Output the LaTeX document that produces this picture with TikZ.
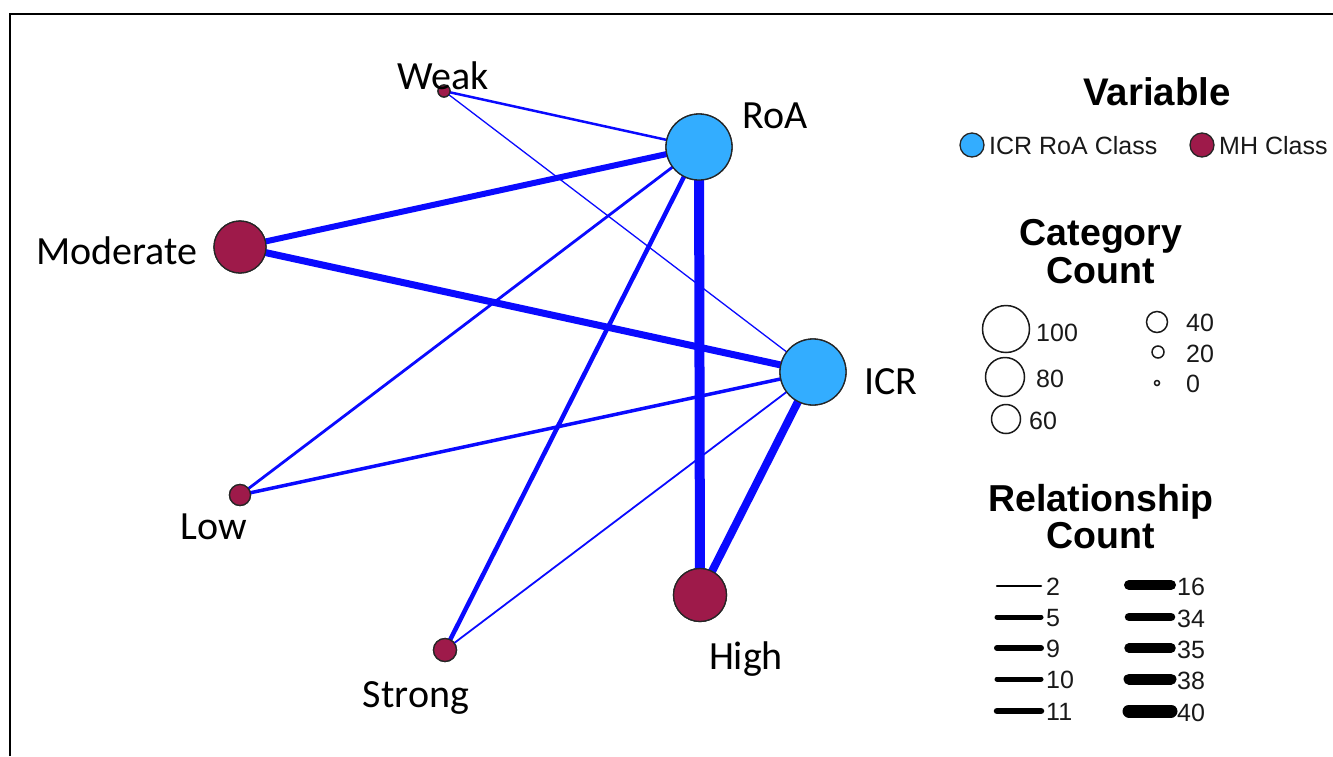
\documentclass[tikz,border=0pt]{standalone}
\usepackage{fontspec}
\setmainfont{Carlito}
\newfontfamily\arial{Liberation Sans}
\definecolor{icrblue}{HTML}{33ADFF}
\definecolor{mhred}{HTML}{9E1A4A}
\definecolor{edgeblue}{HTML}{0A0AFF}
\begin{document}
\begin{tikzpicture}[x=1pt,y=-1pt,
  vnode/.style={circle,draw=black!85,line width=1.3pt,inner sep=0pt,fill=icrblue},
  mnode/.style={circle,draw=black!85,line width=1.3pt,inner sep=0pt,fill=mhred},
  lab/.style={font=\fontsize{40}{42}\selectfont,anchor=base,inner sep=0pt},
  edge/.style={draw=edgeblue},
  ltitle/.style={font=\arial\bfseries\fontsize{37.5}{40}\selectfont,anchor=base,inner sep=0pt},
  ltext/.style={font=\arial\fontsize{25}{27}\selectfont,anchor=west,inner sep=0pt,text=black!90},
  sizec/.style={circle,draw=black!90,line width=1.5pt,inner sep=0pt,fill=white},
  lline/.style={line width=#1,black,line cap=round}
]
\useasboundingbox (0,0) rectangle (1333,756);
\draw[line width=2pt] (10,756) -- (10,14) -- (1333,14);

% nodes
\node[vnode,minimum size=66pt] (roa) at (699,147) {};
\node[vnode,minimum size=66pt] (icr) at (813,372) {};
\node[mnode,minimum size=52pt] (mod) at (240,247) {};
\node[mnode,minimum size=53pt] (high) at (700,595) {};
\node[mnode,minimum size=12pt] (weak) at (444,91) {};
\node[mnode,minimum size=21pt] (low) at (240,495) {};
\node[mnode,minimum size=23pt] (strong) at (445,650) {};

% edges
\draw[edge,line width=2.5pt] (weak.center) -- (roa.center);
\draw[edge,line width=1.3pt] (weak.center) -- (icr.center);
\draw[edge,line width=6pt] (mod.center) -- (roa.center);
\draw[edge,line width=7pt] (mod.center) -- (icr.center);
\draw[edge,line width=2.8pt] (low.center) -- (roa.center);
\draw[edge,line width=3.5pt] (low.center) -- (icr.center);
\draw[edge,line width=4.5pt] (strong.center) -- (roa.center);
\draw[edge,line width=1.8pt] (strong.center) -- (icr.center);
\draw[edge,line width=10pt] (roa.center) -- (high.center);
\draw[edge,line width=8pt] (icr.center) -- (high.center);

% redraw nodes on top
\node[vnode,minimum size=66pt] at (roa) {};
\node[vnode,minimum size=66pt] at (icr) {};
\node[mnode,minimum size=52pt] at (mod) {};
\node[mnode,minimum size=53pt] at (high) {};
\node[mnode,minimum size=12pt] at (weak) {};
\node[mnode,minimum size=21pt] at (low) {};
\node[mnode,minimum size=23pt] at (strong) {};

% labels
\node[lab] (lweak) at (443,89) {Weak};
\node[lab] (lroa) at (775,128) {RoA};
\node[lab] (lmod) at (117,264) {Moderate};
\node[lab] (licr) at (891,394) {ICR};
\node[lab] (llow) at (214,539) {Low};
\node[lab] (lhigh) at (746,669) {High};
\node[lab] (lstrong) at (416,707) {Strong};

% legend: Variable
\node[ltitle,font=\arial\bfseries\fontsize{38.5}{40}\selectfont] (tvar) at (1157,105) {Variable};
\node[vnode,minimum size=24pt] (lgv) at (972,145) {};
\node[ltext] (tv1) at (989,146) {ICR RoA Class};
\node[mnode,minimum size=24pt] (lgm) at (1202,145) {};
\node[ltext] (tv2) at (1219,146) {MH Class};

% legend: Category Count
\node[ltitle] (tcat) at (1101,245) {Category};
\node[ltitle] (tcnt) at (1101,283) {Count};
\node[sizec,minimum size=47pt] (c100) at (1006,329) {};
\node[ltext] (t100) at (1036,333) {100};
\node[sizec,minimum size=39pt] (c80) at (1005,377) {};
\node[ltext] (t80) at (1036,379) {80};
\node[sizec,minimum size=29pt] (c60) at (1006,419) {};
\node[ltext] (t60) at (1029,421) {60};
\node[sizec,minimum size=21pt] (c40) at (1157,322) {};
\node[ltext] (t40) at (1186,323) {40};
\node[sizec,minimum size=12pt] (c20) at (1158,352) {};
\node[ltext] (t20) at (1186,354) {20};
\node[sizec,minimum size=5pt] (c0) at (1157,383) {};
\node[ltext] (t0) at (1186,384) {0};

% legend: Relationship Count
\node[ltitle] (trel) at (1101,511) {Relationship};
\node[ltitle] (trc) at (1101,548) {Count};
\foreach \y/\w/\t/\nm in {586/2.5pt/2/a,617/5pt/5/b,648/6pt/9/c,679/5pt/10/d,711/6.5pt/11/e}{
  \coordinate (s\nm) at (997,\y);
  \coordinate (e\nm) at (1041,\y);
  \draw[lline=\w] (s\nm) -- (e\nm);
  \node[ltext] (t\nm) at (1046,\y+1) {\t};
}
\foreach \y/\w/\t/\nm in {585/10pt/16/f,617/8.5pt/34/g,648/9.5pt/35/h,679/11pt/38/i,711/13pt/40/j}{
  \coordinate (s\nm) at (1129,\y);
  \coordinate (e\nm) at (1171,\y);
  \draw[lline=\w] (s\nm) -- (e\nm);
  \node[ltext] (t\nm) at (1177,\y+2) {\t};
}
\end{tikzpicture}
\end{document}
